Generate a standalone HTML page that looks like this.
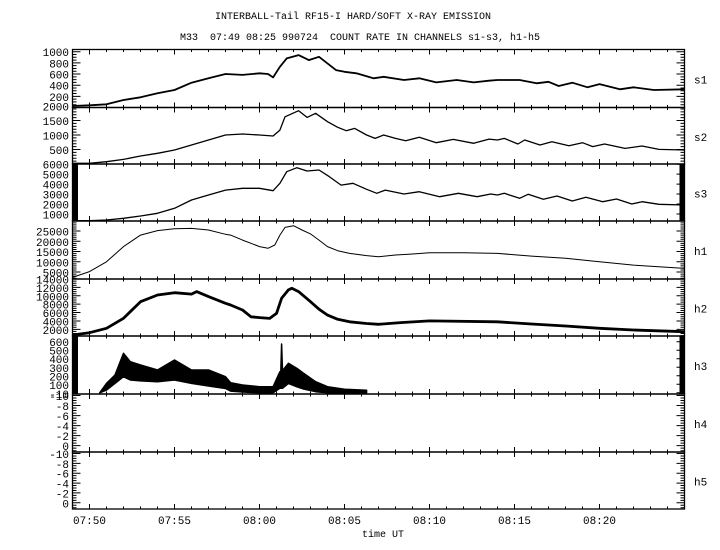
<!DOCTYPE html>
<html><head><meta charset="utf-8"><style>
html,body{margin:0;padding:0;background:#fff;}
svg{display:block;}
text{font-family:"Liberation Mono",monospace;fill:#000;}
</style></head><body>
<svg id="chart" width="720" height="550" viewBox="0 0 720 550" xmlns="http://www.w3.org/2000/svg">
<text x="353" y="19" font-size="10" text-anchor="middle">INTERBALL-Tail RF15-I HARD/SOFT X-RAY EMISSION</text>
<text x="360" y="40" font-size="10" text-anchor="middle" xml:space="preserve">M33  07:49 08:25 990724  COUNT RATE IN CHANNELS s1-s3, h1-h5</text>
<text x="383" y="537" font-size="10" text-anchor="middle">time UT</text>
<g id="g"></g>
</svg>
<script>
// time in minutes after 07:00
const panelNames = ["s1","s2","s3","h1","h2","h3","h4","h5"];
const panelMin = [0, 0, 291, 1610, 406, -14, 1.26, 1.26];
const panelMax = [1040, 1950, 6020, 29900, 14010, 667, -10.3, -10.3];
const tickLabels = [
 [1000,800,600,400,200],[2000,1500,1000,500],[6000,5000,4000,3000,2000,1000],
 [25000,20000,15000,10000,5000],[14000,12000,10000,8000,6000,4000,2000],
 [600,500,400,300,200,100,-10],[-10,-8,-6,-4,-2,0],[-10,-8,-6,-4,-2,0]];
const majorStep = [200,500,1000,5000,2000,100,2,2];
const minorStep = [50,100,100,1000,500,10,0.5,0.5];
const timeTicks = ["07:50","07:55","08:00","08:05","08:10","08:15","08:20"];

const s1T = [49,50,51,52,53,54,55,56,57,58,59,60,60.5,60.8,61.2,61.6,62.3,62.9,63.5,64,64.5,65,65.7,66.7,67.3,68.5,69.4,70.4,71.6,72.6,73.5,74,75.3,76.3,77,77.6,78.4,79.3,80,81.2,82,83.2,85];
const s1V = [27,40,57,134,183,254,314,445,523,600,585,613,600,540,730,880,940,850,910,790,670,640,613,523,550,493,523,450,493,450,480,493,493,434,460,385,445,362,420,326,362,313,326];
const s2T = [49,50,51,52,53,54,55,56,57,58,59,60,60.8,61.2,61.5,62.3,62.8,63.3,64,64.6,65.1,65.6,66.3,66.8,67.3,68,68.6,69.4,70.4,71.4,72.6,73.5,74,74.4,75.2,75.6,76.5,77.2,78.2,79,79.6,80.3,81.5,82.5,83.5,85];
const s2V = [25,25,80,160,275,370,483,655,828,1000,1035,1000,965,1170,1630,1840,1610,1750,1460,1265,1150,1230,1000,885,1000,885,805,920,735,850,715,860,828,885,690,828,655,770,630,735,600,690,540,620,505,483];
const s3T = [49,50,51,52,53,54,55,56,57,58,59,60,60.8,61.2,61.6,62.2,62.8,63.5,64.1,64.8,65.5,66.3,66.9,67.4,68.5,69.4,70.6,71.7,72.8,73.6,74,74.4,75.3,75.8,76.7,77.5,78.4,79.2,80.2,81,81.9,82.5,83.5,85];
const s3V = [320,320,390,560,790,1065,1570,2400,2900,3400,3580,3580,3340,4080,5250,5650,5320,5420,4750,3900,4080,3480,3075,3400,3000,3240,2730,3075,2730,3000,2900,3075,2570,2970,2470,2800,2300,2670,2230,2500,2000,2230,1970,1900];
const h1T = [49,50,51,52,53,54,55,56,57,58,58.3,59,59.5,60,60.5,60.9,61.2,61.5,62,62.5,63,63.5,64,64.6,65.3,66.3,67,68,69,70,72,74,76,78,80,82,85];
const h1V = [2400,5200,10000,17400,23000,25200,26100,26300,25500,23400,23000,20600,19000,17400,16600,18200,23000,26800,27600,25500,23600,20600,17400,15400,14100,13000,12500,13300,13800,14400,14400,14100,12800,11700,10000,8400,6800];
const h2T = [49,50,51,52,53,54,55,56,56.3,57,58,58.3,59,59.5,60,60.6,61,61.3,61.7,61.9,62.3,63,63.5,64,64.6,65.3,66.3,67,68.3,70,74,76,78,80,82,85];
const h2V = [640,1200,2240,4630,8600,10200,10740,10400,11000,9800,8200,7800,6600,5000,4800,4600,5800,9400,11400,11800,11000,8600,6800,5400,4400,3800,3400,3200,3600,4000,3800,3270,2800,2240,1840,1430];
const h3T = [50.6,51,51.5,52,52.4,53,54,55,56,57,58,58.3,59,60,60.8,61.2,61.25,61.3,61.35,61.7,62.2,62.6,63.3,64,65,66.3];
const h3Min = [0,33,111,189,150,140,130,150,110,80,50,20,10,0,0,53,53,53,53,111,70,45,13,0,0,0];
const h3Max = [0,111,209,464,365,326,268,385,268,268,189,119,92,72,72,248,250,573,260,346,287,229,130,72,41,30];

const NS="http://www.w3.org/2000/svg";
const g=document.getElementById('g');
const L=72.5, R=684.5;
const edges=[49.5,107.5,164,221,279,336,394,452,509];
function xs(m){return L+(m-49)*(R-L)/36;}
function ys(i,v){return edges[i+1]-(v-panelMin[i])/(panelMax[i]-panelMin[i])*(edges[i+1]-edges[i]);}
function mk(tag,attrs){const e=document.createElementNS(NS,tag);for(const k in attrs)e.setAttribute(k,attrs[k]);g.appendChild(e);return e;}

for(let i=0;i<8;i++){
  const r=mk('rect',{x:L,y:edges[i],width:R-L,height:edges[i+1]-edges[i],fill:'none',stroke:'#000','stroke-width':1.3});
  
  
  const t=mk('text',{x:694,y:(edges[i]+edges[i+1])/2+5,'font-size':11});
  t.textContent=panelNames[i];
  
  
  const lo=Math.min(panelMin[i],panelMax[i]), hi=Math.max(panelMin[i],panelMax[i]);
  let d='';
  const dense=(i==2||i==5);
  for(let v=Math.ceil(lo/minorStep[i])*minorStep[i]; v<=hi; v+=minorStep[i]){
    const y=ys(i,v); if(y<edges[i]||y>edges[i+1])continue;
    const maj=Math.abs(v/majorStep[i]-Math.round(v/majorStep[i]))<1e-6;
    const len=maj?8:4;
    if(!dense) d+=`M${L},${y}h${len}`;
    d+=`M${R},${y}h${-len}`;
  }
  const tk=mk('path',{d:d,stroke:'#000','stroke-width':1});
  
  
  if(dense){
    const b1=mk('rect',{x:L,y:edges[i],width:5.5,height:edges[i+1]-edges[i],fill:'#000'});
    
    
    const b2=mk('rect',{x:R-5,y:edges[i],width:5,height:edges[i+1]-edges[i],fill:'#000'});
    
    
  }
  tickLabels[i].forEach(v=>{
    const lt=mk('text',{x:69,y:ys(i,v)+4.5,'font-size':11,'text-anchor':'end'});
    lt.textContent=v;
    
    
  });
}
let td='';
for(let m=49;m<=85;m++){
  const x=xs(m); const maj=(m%5==0);
  for(let j=0;j<edges.length;j++){
    const up=maj?5:2.5;
    if(j>0) td+=`M${x},${edges[j]}v${-up}`;
    if(j<edges.length-1) td+=`M${x},${edges[j]}v${up}`;
  }
}
const tp=mk('path',{d:td,stroke:'#000','stroke-width':1});


timeTicks.forEach(s=>{
  const p=s.split(':'); const m=(+p[0]-7)*60+(+p[1]);
  const t=mk('text',{x:xs(m),y:524,'font-size':11,'text-anchor':'middle'});
  t.textContent=s;
  
  
});
function line(i,T,V,w,name){
  const pts=T.map((t,k)=>xs(t).toFixed(1)+','+ys(i,V[k]).toFixed(1)).join(' ');
  const p=mk('polyline',{points:pts,fill:'none',stroke:'#000','stroke-width':w,'stroke-linejoin':'round'});
  
  
}
line(0,s1T,s1V,1.8,'series-s1');
line(1,s2T,s2V,1.3,'series-s2');
line(2,s3T,s3V,1.3,'series-s3');
line(3,h1T,h1V,1,'series-h1');
line(4,h2T,h2V,2.8,'series-h2');
const h3TopPts=h3T.map((t,k)=>xs(t).toFixed(1)+','+ys(5,h3Max[k]).toFixed(1));
const h3BotPts=h3T.map((t,k)=>xs(t).toFixed(1)+','+ys(5,h3Min[k]).toFixed(1)).reverse();
const band=mk('polygon',{points:h3TopPts.concat(h3BotPts).join(' '),fill:'#000',stroke:'#000','stroke-width':1.5,'stroke-linejoin':'round'});


</script>
</body></html>
